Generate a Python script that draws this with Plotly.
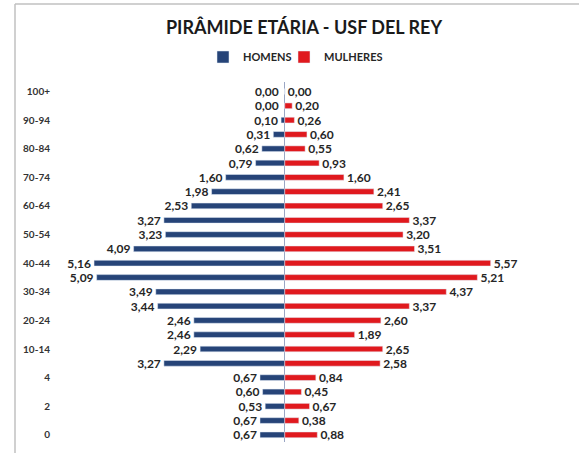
import plotly.graph_objects as go

categories = ["0", "1", "2", "3", "4", "5-9", "10-14", "15-19", "20-24", "25-29",
              "30-34", "35-39", "40-44", "45-49", "50-54", "55-59", "60-64", "65-69",
              "70-74", "75-79", "80-84", "85-89", "90-94", "95-99", "100+"]
homens = [0.67, 0.67, 0.53, 0.60, 0.67, 3.27, 2.29, 2.46, 2.46, 3.44,
          3.49, 5.09, 5.16, 4.09, 3.23, 3.27, 2.53, 1.98, 1.60, 0.79,
          0.62, 0.31, 0.10, 0.00, 0.00]
mulheres = [0.88, 0.38, 0.67, 0.45, 0.84, 2.58, 2.65, 1.89, 2.60, 3.37,
            4.37, 5.21, 5.57, 3.51, 3.20, 3.37, 2.65, 2.41, 1.60, 0.93,
            0.55, 0.60, 0.26, 0.20, 0.00]
tick_labels = ["0", "2", "4", "10-14", "20-24", "30-34", "40-44", "50-54",
               "60-64", "70-74", "80-84", "90-94", "100+"]

def fmt(v):
    return f"{v:.2f}".replace(".", ",")

FONT = "Lato"
BLUE = "#264478"
RED = "#E0191E"
LABEL_FONT = dict(family=FONT, size=12, color="#262626")
NB = "\u00a0"

# zero-valued male labels are placed left of the axis with annotations
male_pos = ["none" if v == 0 else "outside" for v in homens]

fig = go.Figure()
fig.add_trace(go.Bar(
    y=categories, x=[-v for v in homens], orientation="h", name="<b>HOMENS</b>",
    marker=dict(color=BLUE), text=[fmt(v) for v in homens], legend="legend", showlegend=True,
    textposition=male_pos, textfont=LABEL_FONT, constraintext="none", textangle=0,
    texttemplate="<b>%{text}</b>" + NB, cliponaxis=False, hoverinfo="skip"))
fig.add_trace(go.Bar(
    y=categories, x=mulheres, orientation="h", name="<b>MULHERES</b>",
    marker=dict(color=RED), text=[fmt(v) for v in mulheres], legend="legend2", showlegend=True,
    textposition="outside", textfont=LABEL_FONT, constraintext="none", textangle=0,
    texttemplate=NB + "<b>%{text}</b>", cliponaxis=False, hoverinfo="skip"))

for c, v in zip(categories, homens):
    if v == 0:
        fig.add_annotation(x=-v, y=c, text="<b>%s</b>" % fmt(v), showarrow=False,
                           xanchor="right", xshift=-4, font=LABEL_FONT)

L, R, T, B = 63, 17, 82, 11
W, H = 579, 453
pw, ph = W - L - R, H - T - B

def px_x(p):
    return (p - L) / pw

def px_y(p):
    return (H - B - p) / ph

legend_common = dict(orientation="h", xanchor="left", y=px_y(57), yanchor="middle",
                     font=dict(family=FONT, size=11, color="#262626"),
                     itemwidth=30, bgcolor="rgba(0,0,0,0)", visible=True)

fig.update_layout(
    width=W, height=H, showlegend=True,
    barmode="relative", bargap=0.6,
    margin=dict(l=L, r=R, t=T, b=B, autoexpand=False),
    paper_bgcolor="white", plot_bgcolor="white",
    font=dict(family=FONT, color="#262626"),
    title=dict(text="<b>PIRÂMIDE ETÁRIA - USF DEL REY</b>", x=304 / W, xanchor="center",
               y=1 - 28 / H, yanchor="middle", font=dict(family=FONT, size=18, color="#1a1a1a")),
    legend=dict(x=px_x(203), **legend_common),
    legend2=dict(x=px_x(284), **legend_common),
    xaxis=dict(range=[-6.0, 7.5], showticklabels=False, showgrid=False, automargin=False,
               zeroline=True, zerolinecolor="#9aa6c4", zerolinewidth=1, fixedrange=True),
    yaxis=dict(categoryorder="array", categoryarray=categories, automargin=False,
               tickmode="array", tickvals=tick_labels, ticktext=["<b>%s</b>" % t for t in tick_labels],
               tickfont=dict(family=FONT, size=10, color="#333333"), fixedrange=True,
               showgrid=False, showline=False, ticks="", ticklabelstandoff=12),
    shapes=[
        dict(type="line", xref="paper", yref="paper", x0=px_x(15), x1=px_x(579),
             y0=px_y(4), y1=px_y(4), line=dict(color="#c0c0c0", width=1.5)),
        dict(type="line", xref="paper", yref="paper", x0=px_x(15), x1=px_x(15),
             y0=px_y(4), y1=px_y(453), line=dict(color="#c0c0c0", width=1.5)),
    ],
)

fig.write_html("out.html", config={"displayModeBar": False},
               post_script="document.body.style.margin='0';document.body.style.overflow='hidden';")
